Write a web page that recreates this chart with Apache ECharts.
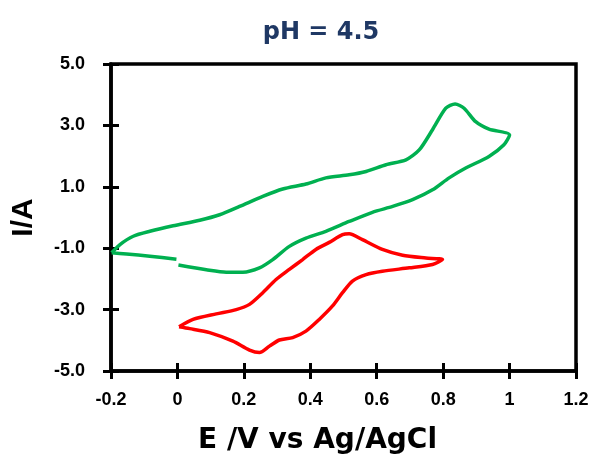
<!DOCTYPE html>
<html>
<head>
<meta charset="utf-8">
<script src="https://cdn.jsdelivr.net/npm/echarts@6/dist/echarts.min.js"></script>
<style>html,body{margin:0;padding:0;background:#fff}#c{width:589px;height:456px}</style>
</head>
<body>
<div id="c"></div>
<script>
// Green CV (pH 4.5): potential (V) and current (A); null marks the small break in the trace
const greenE = [-0.198,-0.173,-0.133,-0.083,-0.013,0.067,0.127,0.187,0.257,0.317,0.387,0.447,0.517,0.568,0.628,0.688,0.728,0.768,0.808,0.836,0.863,0.898,0.938,1.0,
  0.983,0.938,0.868,0.818,0.768,0.708,0.648,0.587,0.517,0.447,0.387,0.337,0.287,0.247,0.197,0.147,0.087,0.003,null,-0.003,-0.083,-0.153,-0.198];
const greenI = [-1.15,-0.88,-0.61,-0.45,-0.27,-0.09,0.09,0.36,0.69,0.93,1.09,1.29,1.39,1.50,1.72,1.88,2.20,2.86,3.56,3.70,3.56,3.12,2.88,2.69,
  2.37,1.99,1.61,1.29,0.90,0.58,0.36,0.17,-0.13,-0.45,-0.67,-0.94,-1.37,-1.64,-1.78,-1.78,-1.70,-1.55,null,-1.36,-1.26,-1.19,-1.15];
// Red CV
const redE = [0.005,0.047,0.117,0.177,0.217,0.257,0.297,0.337,0.377,0.417,0.457,0.497,0.517,0.557,0.617,0.678,0.748,0.798,
  0.768,0.698,0.617,0.568,0.527,0.497,0.467,0.427,0.387,0.347,0.307,0.277,0.247,0.217,0.167,0.097,0.037,0.005];
const redI = [-3.56,-3.32,-3.14,-3.0,-2.83,-2.45,-2.02,-1.69,-1.37,-1.04,-0.81,-0.56,-0.53,-0.72,-1.04,-1.23,-1.32,-1.37,
  -1.53,-1.64,-1.75,-1.86,-2.07,-2.45,-2.88,-3.32,-3.70,-3.91,-3.99,-4.19,-4.40,-4.32,-4.03,-3.75,-3.62,-3.56];
const xTicks = {min: -0.2, max: 1.2, interval: 0.2};
const yTicks = {min: -5, max: 5, interval: 2};
const titleText = 'pH = 4.5';
const xName = 'E /V vs Ag/AgCl';
const yName = 'I/A';

function pairs(xs, ys) {
  return xs.map((x, i) => (x === null ? [NaN, NaN] : [x, ys[i]]));
}

const chart = echarts.init(document.getElementById('c'));
const WIDE = 'DejaVu Sans';
const ARIAL = 'Liberation Sans, Arial';
const lbl = {color: '#000', fontWeight: 'bold', fontFamily: ARIAL, fontSize: 18};
const tickStyle = {color: '#000', width: 3};
chart.setOption({
  animation: false,
  title: {
    text: titleText, left: 316, top: 16, textAlign: 'center',
    textStyle: {color: '#1f3864', fontFamily: WIDE, fontWeight: 'bold', fontSize: 24}
  },
  grid: {left: 111, right: 13, top: 64, bottom: 85, outerBoundsMode: 'none',
    show: true, borderColor: '#000', borderWidth: 3.5},
  xAxis: [{
    type: 'value', min: xTicks.min, max: xTicks.max, interval: xTicks.interval,
    position: 'bottom',
    name: xName, nameLocation: 'middle', nameGap: 56,
    nameTextStyle: {color: '#000', fontWeight: 'bold', fontFamily: WIDE, fontSize: 28, padding: [0, 52, 0, 0]},
    axisLine: {show: true, onZero: false, lineStyle: {color: '#000', width: 3.5}},
    axisTick: {show: true, inside: false, length: 8, lineStyle: tickStyle},
    axisLabel: Object.assign({margin: 20}, lbl),
    splitLine: {show: false}
  }, {
    type: 'value', min: xTicks.min, max: xTicks.max, interval: xTicks.interval,
    position: 'bottom',
    axisLine: {show: false, onZero: false},
    axisTick: {show: true, inside: true, length: 8, lineStyle: tickStyle},
    axisLabel: {show: false}, splitLine: {show: false}
  }],
  yAxis: [{
    type: 'value', min: yTicks.min, max: yTicks.max, interval: yTicks.interval,
    position: 'left',
    name: yName, nameLocation: 'middle', nameGap: 72,
    nameTextStyle: {color: '#000', fontWeight: 'bold', fontFamily: ARIAL, fontSize: 30},
    axisLine: {show: true, onZero: false, lineStyle: {color: '#000', width: 3.5}},
    axisTick: {show: true, inside: false, length: 8, lineStyle: tickStyle},
    axisLabel: Object.assign({margin: 26, formatter: v => v.toFixed(1)}, lbl),
    splitLine: {show: false}
  }, {
    type: 'value', min: yTicks.min, max: yTicks.max, interval: yTicks.interval,
    position: 'left',
    axisLine: {show: false, onZero: false},
    axisTick: {show: true, inside: true, length: 8, lineStyle: tickStyle},
    axisLabel: {show: false}, splitLine: {show: false}
  }],
  series: [{
    type: 'line', data: pairs(greenE, greenI), smooth: 0.25, showSymbol: false,
    connectNulls: false,
    lineStyle: {color: '#00b050', width: 3.5}, z: 3
  }, {
    type: 'line', data: pairs(redE, redI), smooth: 0.25, showSymbol: false,
    lineStyle: {color: '#ff0000', width: 3.5}, z: 3
  }]
});
</script>
</body>
</html>
